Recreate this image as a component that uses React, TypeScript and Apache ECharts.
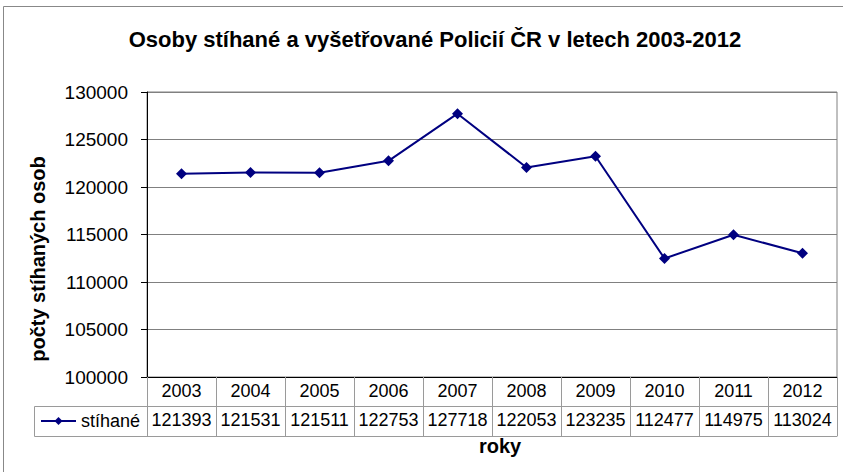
import React, { useEffect, useRef } from "react";
import * as echarts from "echarts";

const years = ["2003", "2004", "2005", "2006", "2007", "2008", "2009", "2010", "2011", "2012"];
const stihane = [121393, 121531, 121511, 122753, 127718, 122053, 123235, 112477, 114975, 113024];
const yTicks = { min: 100000, max: 130000, interval: 5000 };
const seriesName = "stíhané";
const titleText = "Osoby stíhané a vyšetřované Policií ČR v letech 2003-2012";
const yName = "počty stíhaných osob";
const xName = "roky";

const FONT = "Liberation Sans";
const TABLE_GRAY = "#9a9a9a";

export default function App() {
  const ref = useRef<HTMLDivElement>(null);
  useEffect(() => {
    if (!ref.current) return;
    const chart = echarts.init(ref.current, null, { renderer: "svg" });
    chart.setOption({
      animation: false,
      backgroundColor: "#ffffff",
      textStyle: { fontFamily: FONT },
      title: {
        text: titleText,
        left: 435,
        top: 28,
        textAlign: "center",
        padding: 0,
        textStyle: { fontFamily: FONT, fontSize: 22, fontWeight: "bold", color: "#000" },
      },
      legend: {
        data: [seriesName],
        left: 40,
        top: 412,
        padding: 0,
        itemWidth: 35,
        itemHeight: 10,
        textStyle: { fontFamily: FONT, fontSize: 18, color: "#000" },
      },
      grid: {
        left: 147,
        top: 92,
        right: 6,
        bottom: 95,
        show: true,
        borderColor: "#808080",
        borderWidth: 1,
        containLabel: false,
      },
      xAxis: [
        {
          type: "category",
          data: years,
          position: "bottom",
          boundaryGap: true,
          axisLine: { show: true, lineStyle: { color: "#000", width: 1 } },
          axisTick: { show: true, interval: 0, length: 59, lineStyle: { color: TABLE_GRAY, width: 1 } },
          axisLabel: { interval: 0, margin: 5, fontFamily: FONT, fontSize: 18, color: "#000" },
          splitLine: { show: false },
        },
        {
          type: "category",
          data: stihane.map((v) => String(v)),
          position: "bottom",
          offset: 29,
          boundaryGap: true,
          axisLine: { show: true, lineStyle: { color: TABLE_GRAY, width: 1 } },
          axisTick: { show: false },
          axisLabel: { interval: 0, margin: 5, fontFamily: FONT, fontSize: 18, color: "#000" },
          splitLine: { show: false },
        },
        {
          type: "category",
          data: years,
          position: "bottom",
          offset: 59,
          boundaryGap: true,
          axisLine: { show: true, lineStyle: { color: TABLE_GRAY, width: 1 } },
          axisTick: { show: false },
          axisLabel: { show: false },
          splitLine: { show: false },
        },
      ],
      yAxis: {
        type: "value",
        min: yTicks.min,
        max: yTicks.max,
        interval: yTicks.interval,
        axisLine: { show: true, lineStyle: { color: "#000", width: 1 } },
        axisTick: { show: true, length: 6, lineStyle: { color: "#000" } },
        axisLabel: {
          margin: 19,
          fontFamily: FONT,
          fontSize: 19,
          color: "#000",
          formatter: (v: number) => String(v),
        },
        splitLine: { show: true, lineStyle: { color: "#808080", width: 1 } },
      },
      series: [
        {
          name: seriesName,
          type: "line",
          xAxisIndex: 0,
          data: stihane,
          symbol: "diamond",
          symbolSize: 11,
          lineStyle: { color: "#000080", width: 2 },
          itemStyle: { color: "#000080" },
        },
      ],
      graphic: [
        {
          type: "rect",
          shape: { x: 3.5, y: 6.5, width: 860, height: 480 },
          style: { fill: "none", stroke: "#888", lineWidth: 1 },
          silent: true,
        },
        {
          type: "polyline",
          shape: { points: [[147, 406.5], [34.5, 406.5], [34.5, 436.5], [147, 436.5]] },
          style: { fill: "none", stroke: TABLE_GRAY, lineWidth: 1 },
          silent: true,
        },
        {
          type: "text",
          x: 38,
          y: 259,
          rotation: Math.PI / 2,
          style: {
            text: yName,
            fontFamily: FONT,
            fontSize: 20,
            fontWeight: "bold",
            fill: "#000",
            textAlign: "center",
            textVerticalAlign: "middle",
          },
          silent: true,
        },
        {
          type: "text",
          x: 500,
          y: 446,
          style: {
            text: xName,
            fontFamily: FONT,
            fontSize: 20,
            fontWeight: "bold",
            fill: "#000",
            textAlign: "center",
            textVerticalAlign: "middle",
          },
          silent: true,
        },
      ],
    });
    return () => chart.dispose();
  }, []);
  return (
    <div
      ref={ref}
      style={{ position: "fixed", left: 0, top: 0, width: 843, height: 472 }}
    />
  );
}
